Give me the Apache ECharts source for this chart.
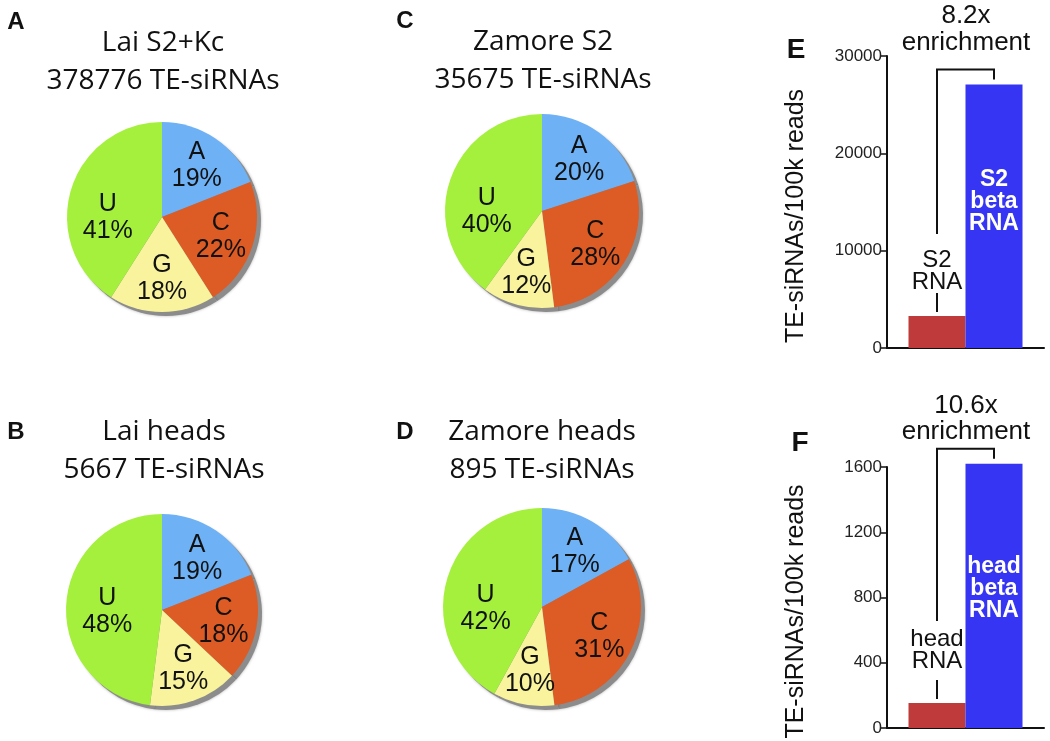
<!DOCTYPE html>
<html>
<head>
<meta charset="utf-8">
<script src="https://cdn.jsdelivr.net/npm/echarts@6/dist/echarts.min.js"></script>
<style>
html,body{margin:0;padding:0;background:#fff;}
#c{width:1050px;height:741px;}
</style>
</head>
<body>
<div id="c"></div>
<script>
// ---- data ----
const bases = ['A', 'C', 'G', 'U'];
const laiS2Kc = [19, 22, 18, 41];
const laiHeads = [19, 18, 15, 48];
const zamoreS2 = [20, 28, 12, 40];
const zamoreHeads = [17, 31, 10, 42];
const pieTitles = [
  ['Lai S2+Kc', '378776 TE-siRNAs'],
  ['Lai heads', '5667 TE-siRNAs'],
  ['Zamore S2', '35675 TE-siRNAs'],
  ['Zamore heads', '895 TE-siRNAs']
];
const panelLetters = ['A', 'B', 'C', 'D', 'E', 'F'];
const s2Series = ['S2 RNA', 'S2 beta RNA'];
const s2Values = [3300, 27060];
const headSeries = ['head RNA', 'head beta RNA'];
const headValues = [153, 1620];
const enrichLabels = ['8.2x', '10.6x'];
const yAxisName = 'TE-siRNAs/100k reads';

// ---- styles / layout ----
const baseColors = ['#6eb1f5', '#dd5b24', '#f8f39c', '#a4f03c'];
const barColors = ['#bf3b3b', '#3535f3'];
const SANS = '"Liberation Sans", Arial, sans-serif';
const TITLE = '"Open Sans", "Noto Sans", sans-serif';

const pies = [
  { vals: laiS2Kc, c: [162, 217], r: 95, title: pieTitles[0], tx: 163, ty: 43 },
  { vals: laiHeads, c: [162, 610], r: 96, title: pieTitles[1], tx: 164, ty: 432 },
  { vals: zamoreS2, c: [542, 211], r: 97, title: pieTitles[2], tx: 543, ty: 42 },
  { vals: zamoreHeads, c: [542, 607], r: 99, title: pieTitles[3], tx: 542, ty: 432 }
];

const LBL_R0 = 0.34, LBL_R1 = 0.9;   // label ring -> labels at 0.62 r
function labelOffsets(vals, r) {
  const S = vals.reduce((a, b) => a + b, 0);
  const rm = (LBL_R0 + LBL_R1) / 2 * r;
  let cum = 0;
  return vals.map((v, i) => {
    const th = (cum + v / 2) / S * 2 * Math.PI;
    cum += v;
    if (bases[i] !== 'U') return [0, 0];
    const dx = rm * Math.sin(th), dy = -rm * Math.cos(th);
    return [-0.54 * r - dx, 0.02 * r - dy];   // U label sits level with the centre
  });
}

const series = [];
pies.forEach(p => {
  // shadow
  series.push({
    type: 'pie', silent: true, z: 1, animation: false,
    center: [p.c[0] + 4, p.c[1] + 4], radius: p.r,
    startAngle: 90, clockwise: true, avoidLabelOverlap: false,
    label: { show: false }, labelLine: { show: false },
    itemStyle: { color: '#8c8c8c', borderWidth: 0, shadowBlur: 3, shadowColor: 'rgba(0,0,0,0.3)' },
    data: p.vals.map((v, i) => ({ name: bases[i], value: v }))
  });
  // main pie
  series.push({
    type: 'pie', silent: true, z: 2, animation: false,
    center: p.c, radius: p.r,
    startAngle: 90, clockwise: true, avoidLabelOverlap: false,
    label: { show: false }, labelLine: { show: false },
    itemStyle: { borderWidth: 0 },
    data: p.vals.map((v, i) => ({ name: bases[i], value: v, itemStyle: { color: baseColors[i] } }))
  });
  // label carrier (transparent ring)
  const offs = labelOffsets(p.vals, p.r);
  series.push({
    type: 'pie', silent: true, z: 3, animation: false,
    center: p.c, radius: [p.r * LBL_R0, p.r * LBL_R1],
    startAngle: 90, clockwise: true, avoidLabelOverlap: false,
    labelLayout: { hideOverlap: false },
    labelLine: { show: false },
    itemStyle: { color: 'rgba(0,0,0,0)', borderWidth: 0 },
    label: {
      show: true, position: 'inside', formatter: '{b}\n{c}%',
      fontFamily: SANS, fontSize: 25, lineHeight: 27, color: '#111'
    },
    data: p.vals.map((v, i) => ({ name: bases[i], value: v, label: { offset: offs[i] } }))
  });
});

function barPair(names, values, gridIndex, blueOffset, redDist) {
  return names.map((n, i) => ({
    type: 'bar', name: n, xAxisIndex: gridIndex, yAxisIndex: gridIndex,
    barWidth: 57, barGap: '0%', clip: false, animation: false, silent: true,
    itemStyle: { color: barColors[i] },
    label: i === 0 ? {
      show: true, position: 'top', distance: redDist,
      formatter: p => p.seriesName.split(' ').join('\n'),
      fontFamily: SANS, fontSize: 24, lineHeight: 22, color: '#111'
    } : {
      show: true, position: 'inside', offset: [0, blueOffset],
      formatter: p => p.seriesName.split(' ').join('\n'),
      fontFamily: SANS, fontSize: 23, fontWeight: 'bold', lineHeight: 22, color: '#fff'
    },
    data: [values[i]]
  }));
}
series.push(...barPair(s2Series, s2Values, 0, -15, 23));
series.push(...barPair(headSeries, headValues, 1, -7, 31));

const axisLineStyle = { color: '#111', width: 2 };
function yAx(max, interval, gi) {
  return {
    type: 'value', gridIndex: gi, min: 0, max: max, interval: interval,
    name: yAxisName, nameLocation: 'middle', nameGap: 78,
    nameTextStyle: { fontFamily: SANS, fontSize: 25, color: '#111', padding: [0, 28, 0, 0] },
    axisLine: { show: true, lineStyle: axisLineStyle },
    axisTick: { show: true, length: 6, lineStyle: { color: '#111', width: 1.5 } },
    axisLabel: { fontFamily: SANS, fontSize: 17, color: '#222', margin: 5, formatter: v => String(v) },
    splitLine: { show: false }
  };
}
function xAx(gi) {
  return {
    type: 'category', gridIndex: gi, data: [''],
    axisLine: { show: true, lineStyle: axisLineStyle },
    axisTick: { show: false }, axisLabel: { show: false }
  };
}

const staticGraphics = [];
pies.forEach(p => {
  p.title.forEach((t, k) => {
    staticGraphics.push({
      type: 'text', x: p.tx, y: p.ty + k * 38, silent: true,
      style: { text: t, fontFamily: TITLE, fontSize: 28, fill: '#111', align: 'center', verticalAlign: 'middle' }
    });
  });
});
const letterPos = [[16, 22, 24], [16, 432, 24], [405, 21, 24], [405, 432, 24], [796, 50, 28], [800, 443, 28]];
panelLetters.forEach((l, i) => {
  staticGraphics.push({
    type: 'text', x: letterPos[i][0], y: letterPos[i][1], silent: true,
    style: { text: l, fontFamily: SANS, fontWeight: 'bold', fontSize: letterPos[i][2], fill: '#111', align: 'center', verticalAlign: 'middle' }
  });
});
const enrichPos = [[966, 16, 43], [966, 406, 432]];
enrichLabels.forEach((t, i) => {
  staticGraphics.push({
    type: 'text', x: enrichPos[i][0], y: enrichPos[i][1], silent: true,
    style: { text: t, fontFamily: SANS, fontSize: 26, fill: '#111', align: 'center', verticalAlign: 'middle' }
  });
  staticGraphics.push({
    type: 'text', x: enrichPos[i][0], y: enrichPos[i][2], silent: true,
    style: { text: 'enrichment', fontFamily: SANS, fontSize: 26, fill: '#111', align: 'center', verticalAlign: 'middle' }
  });
});

const chart = echarts.init(document.getElementById('c'), null, { renderer: 'canvas' });
chart.setOption({
  backgroundColor: '#fff',
  animation: false,
  grid: [
    { left: 887, top: 56, width: 157, height: 292 },
    { left: 887, top: 467, width: 157, height: 261 }
  ],
  xAxis: [xAx(0), xAx(1)],
  yAxis: [yAx(30000, 10000, 0), yAx(1600, 400, 1)],
  series: series,
  graphic: staticGraphics
});

// brackets, from the bar scales
function bracket(gi, values) {
  const cx = chart.convertToPixel({ xAxisIndex: gi }, '');
  const leftX = cx - 28.5, rightX = cx + 28.5;
  const redTop = chart.convertToPixel({ yAxisIndex: gi }, values[0]);
  const blueTop = chart.convertToPixel({ yAxisIndex: gi }, values[1]);
  const topY = blueTop - 15;
  const ls = { stroke: '#111', lineWidth: 2, fill: 'none' };
  return [
    { type: 'polyline', silent: true, shape: { points: [[leftX, redTop - 82], [leftX, topY], [rightX, topY], [rightX, topY + 10]] }, style: ls },
    { type: 'line', silent: true, shape: { x1: leftX, y1: redTop - 23, x2: leftX, y2: redTop - 4 }, style: ls }
  ];
}
chart.setOption({ graphic: staticGraphics.concat(bracket(0, s2Values), bracket(1, headValues)) });
</script>
</body>
</html>
